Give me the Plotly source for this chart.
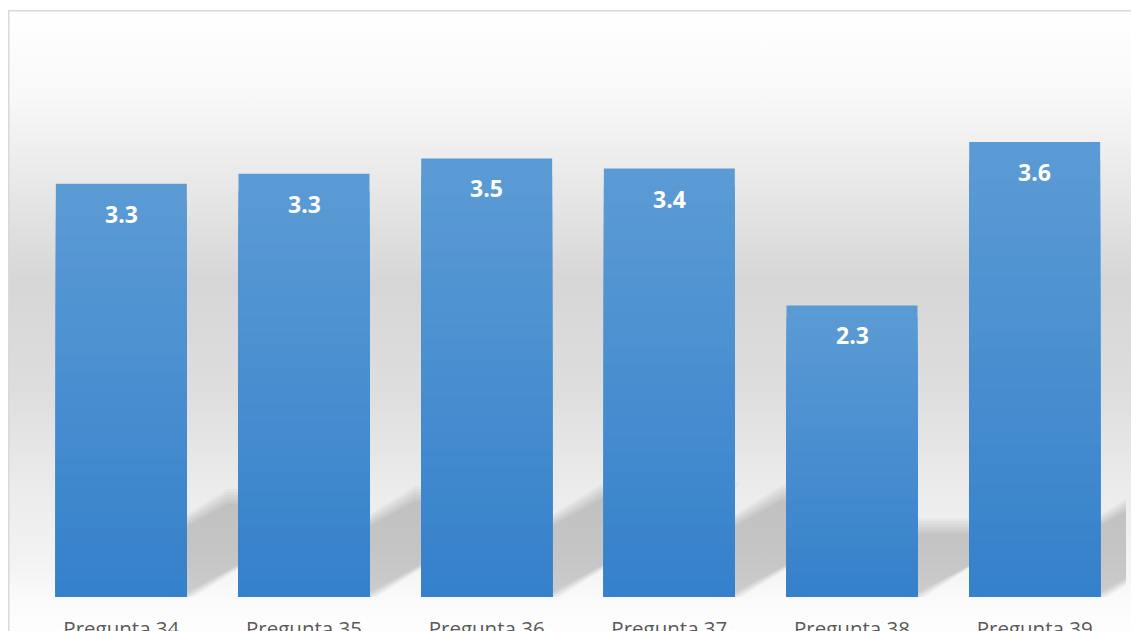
import base64
import plotly.graph_objects as go

# ---------------- data ----------------
categories = ["Pregunta 34", "Pregunta 35", "Pregunta 36", "Pregunta 37", "Pregunta 38", "Pregunta 39"]
values = [3.26, 3.34, 3.46, 3.38, 2.30, 3.59]

# ---------------- layout geometry ----------------
W, H = 1131, 631
ML, MR, MT, MB = 30, 5, 90, 34
Y_MAX = 4.0
BAR_W = 0.717
PLOT_W = W - ML - MR
PLOT_H = H - MT - MB
PX_X = PLOT_W / len(categories)   # px per x unit
PX_Y = PLOT_H / Y_MAX             # px per y unit

xs = list(range(len(categories)))

fig = go.Figure()

# ---------------- bars with vertical gradient (stacked overlays) ----------------
TOP = (91, 155, 213)
BOT = (54, 129, 203)
N = 24
for k in range(N):
    t = k / (N - 1)
    c = tuple(round(TOP[i] + (BOT[i] - TOP[i]) * t) for i in range(3))
    frac = (N - k) / N
    fig.add_trace(go.Bar(
        x=xs, y=[v * frac for v in values], width=BAR_W,
        marker=dict(color="rgb(%d,%d,%d)" % c, line=dict(width=0)),
        hoverinfo="skip", showlegend=False,
    ))

# ---------------- perspective shadows (shapes below traces) ----------------
S_H = 0.245     # shadow height as fraction of bar height
SHEAR = 1.7     # horizontal px per vertical px
shapes = []
for x, v in zip(xs, values):
    L = x - BAR_W / 2
    R = x + BAR_W / 2
    hs = v * S_H
    sx = SHEAR * hs * PX_Y / PX_X
    for d in (-8, -5, -2, 1, 4, 7):
        dx = d / PX_X
        dy = d / PX_Y
        path = "M %f,0 L %f,0 L %f,%f L %f,%f Z" % (
            L, R + dx, R + sx + dx, hs + dy, L + sx, hs + dy)
        shapes.append(dict(type="path", path=path, xref="x", yref="y",
                           fillcolor="rgba(0,0,0,0.031)", line=dict(width=0),
                           layer="below"))

# ---------------- value labels ----------------
annotations = []
for x, v in zip(xs, values):
    annotations.append(dict(
        x=x, y=v, xref="x", yref="y", text="%.1f" % v, showarrow=False,
        yanchor="top", yshift=-12,
        font=dict(family="Open Sans", size=23, color="white", weight="bold"),
    ))

# ---------------- chart-area background (gradient + border) ----------------
stops = [(0.0, "#ffffff"), (0.14, "#f8f8f8"), (0.25, "#ebebeb"), (0.43, "#d6d6d6"),
         (0.61, "#dedede"), (0.75, "#ebebeb"), (0.86, "#f2f2f2"), (0.94, "#fbfbfb"), (1.0, "#ffffff")]
BG_X0, BG_Y0, BG_X1, BG_Y1 = 8, 10, 1140, 643
bw, bh = BG_X1 - BG_X0, BG_Y1 - BG_Y0
svg = ('<svg xmlns="http://www.w3.org/2000/svg" width="%d" height="%d" viewBox="0 0 %d %d" preserveAspectRatio="none">'
       '<defs><linearGradient id="g" x1="0" y1="0" x2="0" y2="1">%s</linearGradient></defs>'
       '<rect x="0" y="0" width="%d" height="%d" fill="url(#g)"/>'
       '<rect x="0.75" y="0.75" width="%d" height="%d" fill="none" stroke="#d9d9d9" stroke-width="1.5"/>'
       '</svg>') % (bw, bh, bw, bh,
                    "".join('<stop offset="%s" stop-color="%s"/>' % s for s in stops),
                    bw, bh, bw + 10, bh + 10)
src = "data:image/svg+xml;base64," + base64.b64encode(svg.encode()).decode()

images = [dict(
    source=src, xref="paper", yref="paper",
    x=(BG_X0 - ML) / PLOT_W, y=(H - MB - BG_Y0) / PLOT_H,
    sizex=bw / PLOT_W, sizey=bh / PLOT_H,
    xanchor="left", yanchor="top", sizing="stretch", layer="below",
)]

fig.update_layout(
    width=W, height=H,
    margin=dict(l=ML, r=MR, t=MT, b=MB, autoexpand=False),
    paper_bgcolor="white", plot_bgcolor="rgba(0,0,0,0)",
    barmode="overlay",
    showlegend=False,
    shapes=shapes, annotations=annotations, images=images,
    xaxis=dict(range=[-0.5, len(categories) - 0.5], tickvals=xs, ticktext=categories,
               showgrid=False, zeroline=False, showline=False, automargin=False,
               ticks="outside", ticklen=13, tickcolor="rgba(0,0,0,0)",
               tickfont=dict(family="Open Sans", size=20.5, color="#595959"), fixedrange=True),
    yaxis=dict(range=[0, Y_MAX], visible=False, fixedrange=True, automargin=False),
    font=dict(family="Open Sans"),
)

fig.write_html("out.html")
